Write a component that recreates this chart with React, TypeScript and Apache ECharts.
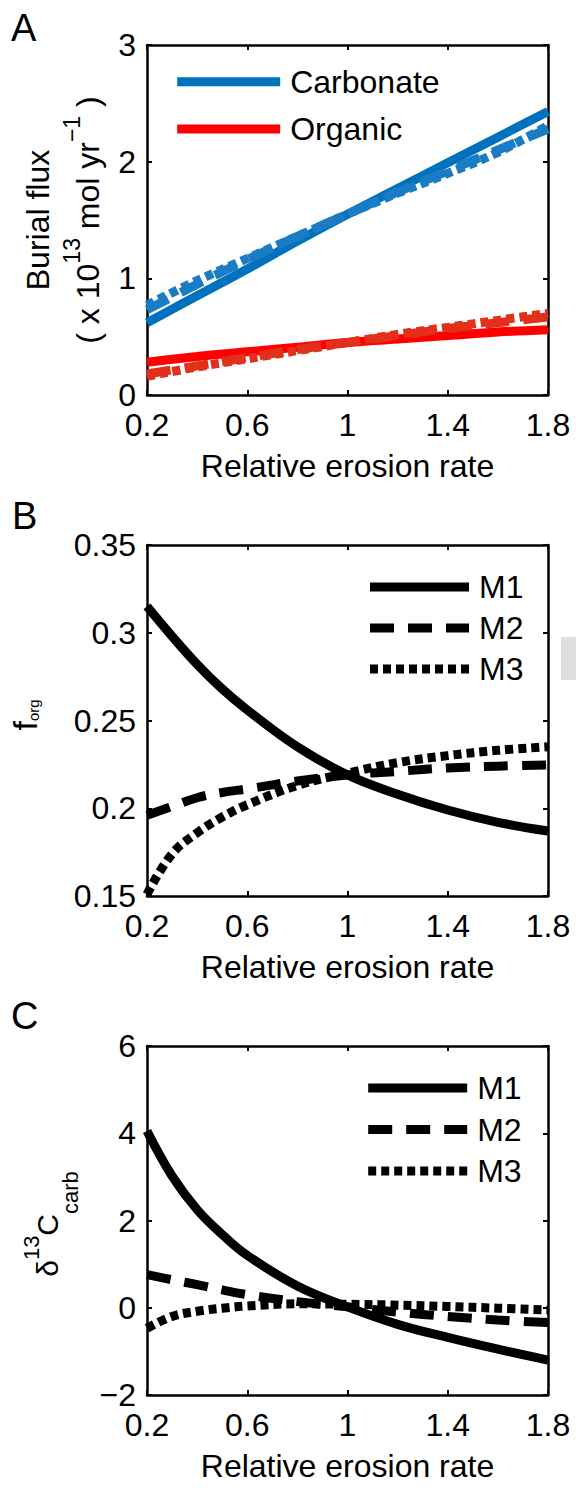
import React, { useEffect, useRef } from 'react';
import * as echarts from 'echarts';

// ---------- data ----------
const xA = [0.2, 0.4, 0.6, 0.8, 1.0, 1.2, 1.4, 1.6, 1.8];
const carbM1 = [0.62, 0.85, 1.08, 1.32, 1.55, 1.77, 1.99, 2.21, 2.43];
const carbM2 = [0.73, 0.95, 1.16, 1.36, 1.55, 1.74, 1.92, 2.1, 2.28];
const carbM3 = [0.77, 0.98, 1.17, 1.36, 1.55, 1.73, 1.9, 2.08, 2.31];
const orgM1 = [0.28, 0.33, 0.37, 0.41, 0.45, 0.48, 0.51, 0.54, 0.56];
const orgM2 = [0.18, 0.25, 0.32, 0.39, 0.45, 0.51, 0.57, 0.62, 0.67];
const orgM3 = [0.16, 0.24, 0.31, 0.38, 0.45, 0.52, 0.58, 0.64, 0.7];

const xB = [0.2, 0.3, 0.4, 0.5, 0.6, 0.8, 1.0, 1.2, 1.4, 1.6, 1.8];
const forgM1 = [0.315, 0.298, 0.282, 0.268, 0.256, 0.235, 0.219, 0.208, 0.199, 0.192, 0.187];
const forgM2 = [0.196, 0.201, 0.206, 0.209, 0.211, 0.2155, 0.219, 0.221, 0.223, 0.224, 0.2247];
const forgM3 = [0.151, 0.174, 0.186, 0.195, 0.202, 0.213, 0.22, 0.226, 0.23, 0.233, 0.235];

const xC = [0.2, 0.3, 0.4, 0.5, 0.6, 0.8, 1.0, 1.2, 1.4, 1.6, 1.8];
const d13M1 = [4.05, 3.02, 2.25, 1.68, 1.2, 0.5, 0.02, -0.38, -0.68, -0.95, -1.2];
const d13M2 = [0.76, 0.64, 0.53, 0.41, 0.3, 0.14, 0.02, -0.1, -0.2, -0.28, -0.34];
const d13M3 = [-0.47, -0.2, -0.08, -0.01, 0.04, 0.09, 0.08, 0.06, 0.03, -0.01, -0.05];

const xTicks = [0.2, 0.6, 1.0, 1.4, 1.8];
const yTicksA = [0, 1, 2, 3];
const yTicksB = [0.15, 0.2, 0.25, 0.3, 0.35];
const yTicksC = [-2, 0, 2, 4, 6];

const legendA = ['Carbonate', 'Organic'];
const legendM = ['M1', 'M2', 'M3'];

// ---------- styles ----------
const FONT = '"Liberation Sans", Arial, Helvetica, sans-serif';
const LW = 9;
const DASH = [24, 14];
const DOT = [8, 5];
const BLUE = '#0072bd';
const BLUE2 = '#1a7cc4';
const RED = '#ff0000';
const RED2 = '#e2301a';

const pairs = (xs: number[], ys: number[]) => xs.map((x, i) => [x, ys[i]]);

const grids = [
  { left: 147, top: 45, width: 401, height: 350 },
  { left: 147, top: 545, width: 401, height: 351 },
  { left: 147, top: 1046, width: 401, height: 349 },
];

const axisLine = { show: true, onZero: false, lineStyle: { color: '#000', width: 2.5 } };
const axisTick = { show: true, inside: true, length: 5, lineStyle: { color: '#000', width: 2 } };

function xAxes(i: number) {
  const base = {
    gridIndex: i,
    type: 'value',
    min: xTicks[0],
    max: xTicks[xTicks.length - 1],
    interval: xTicks[1] - xTicks[0],
    axisLine,
    axisTick,
    splitLine: { show: false },
  };
  return [
    {
      ...base,
      position: 'bottom',
      axisLabel: {
        margin: 14,
        fontSize: 32,
        color: '#000',
        fontFamily: FONT,
        formatter: (v: number) => String(Math.round(v * 10) / 10),
      },
      name: 'Relative erosion rate',
      nameLocation: 'middle',
      nameGap: 55,
      nameTextStyle: { fontSize: 32, color: '#000', fontFamily: FONT },
    },
    { ...base, position: 'top', axisLabel: { show: false } },
  ];
}

function yAxes(i: number, ticks: number[]) {
  const base = {
    gridIndex: i,
    type: 'value',
    min: ticks[0],
    max: ticks[ticks.length - 1],
    interval: Math.round((ticks[1] - ticks[0]) * 1000) / 1000,
    axisLine,
    axisTick,
    splitLine: { show: false },
  };
  return [
    {
      ...base,
      position: 'left',
      axisLabel: {
        margin: 11,
        fontSize: 32,
        color: '#000',
        fontFamily: FONT,
        formatter: (v: number) => String(Math.round(v * 100) / 100).replace('-', '\u2212'),
      },
    },
    { ...base, position: 'right', axisLabel: { show: false } },
  ];
}

function line(name: string, grid: number, xs: number[], ys: number[], color: string, type: any) {
  return {
    name,
    type: 'line',
    xAxisIndex: grid * 2,
    yAxisIndex: grid * 2,
    data: pairs(xs, ys),
    showSymbol: false,
    symbol: 'none',
    smooth: 0.4,
    color,
    lineStyle: { color, width: LW, type, cap: 'butt' },
    emphasis: { disabled: true },
  };
}

function legend(data: string[], left: number, top: number, itemWidth: number, itemGap: number) {
  return {
    data,
    orient: 'vertical',
    left,
    top,
    itemWidth,
    itemHeight: 14,
    itemGap,
    selectedMode: false,
    itemStyle: { color: 'rgba(0,0,0,0)', borderWidth: 0, opacity: 0 },
    lineStyle: { width: LW, cap: 'butt' },
    textStyle: { fontSize: 32, color: '#000', fontFamily: FONT, padding: [0, 0, 0, 5] },
  };
}

export default function App() {
  const ref = useRef<HTMLDivElement>(null);
  useEffect(() => {
    if (!ref.current) return;
    const chart = echarts.init(ref.current, null, { renderer: 'svg' });
    const option: any = {
      animation: false,
      backgroundColor: '#fff',
      grid: grids.map((g) => ({ ...g, outerBoundsMode: 'none', containLabel: false })),
      xAxis: [...xAxes(0), ...xAxes(1), ...xAxes(2)],
      yAxis: [...yAxes(0, yTicksA), ...yAxes(1, yTicksB), ...yAxes(2, yTicksC)],
      legend: [
        legend(legendA, 167.7, 60.7, 103, 15.3),
        legend(legendM, 360.5, 566, 99, 9),
        legend(legendM, 358.7, 1067, 99, 9.5),
      ],
      series: [
        line('Carbonate', 0, xA, carbM1, BLUE, 'solid'),
        line('Organic', 0, xA, orgM1, RED, 'solid'),
        line('Carbonate M2', 0, xA, carbM2, BLUE2, DASH),
        line('Carbonate M3', 0, xA, carbM3, BLUE2, DOT),
        line('Organic M2', 0, xA, orgM2, RED2, DASH),
        line('Organic M3', 0, xA, orgM3, RED2, DOT),
        line('M1', 1, xB, forgM1, '#000', 'solid'),
        line('M2', 1, xB, forgM2, '#000', DASH),
        line('M3', 1, xB, forgM3, '#000', DOT),
        line('M1', 2, xC, d13M1, '#000', 'solid'),
        line('M2', 2, xC, d13M2, '#000', DASH),
        line('M3', 2, xC, d13M3, '#000', DOT),
      ],
      graphic: [
        { type: 'text', x: 11, y: 28, style: { text: 'A', fontSize: 38, fontFamily: FONT, fill: '#000', align: 'left', verticalAlign: 'middle' } },
        { type: 'text', x: 12, y: 516, style: { text: 'B', fontSize: 38, fontFamily: FONT, fill: '#000', align: 'left', verticalAlign: 'middle' } },
        { type: 'text', x: 11, y: 1016, style: { text: 'C', fontSize: 38, fontFamily: FONT, fill: '#000', align: 'left', verticalAlign: 'middle' } },
        {
          type: 'text', x: 38, y: 220, rotation: Math.PI / 2,
          style: { text: 'Burial flux', fontSize: 32, fontFamily: FONT, fill: '#000', align: 'center', verticalAlign: 'middle' },
        },
        {
          type: 'text', x: 88, y: 220, rotation: Math.PI / 2,
          style: {
            text: '{p|( x 10}{s|13}{p| mol yr}{s|\u22121}{p| )}',
            align: 'center', verticalAlign: 'middle', fill: '#000',
            rich: {
              p: { fontSize: 32, fontFamily: FONT, fill: '#000', lineHeight: 56 },
              s: { fontSize: 23, fontFamily: FONT, fill: '#000', verticalAlign: 'top', lineHeight: 23 },
            },
          },
        },
        {
          type: 'text', x: 25, y: 715, rotation: Math.PI / 2,
          style: {
            text: '{p|f}{b|org}',
            align: 'center', verticalAlign: 'middle', fill: '#000',
            rich: {
              p: { fontSize: 34, fontFamily: FONT, fill: '#000', lineHeight: 32 },
              b: { fontSize: 15, fontFamily: FONT, fill: '#000', verticalAlign: 'bottom', lineHeight: 15 },
            },
          },
        },
        {
          type: 'text', x: 47, y: 1224, rotation: Math.PI / 2,
          style: {
            text: '{p|\u03b4}{s|13}{p|C}{b|carb}',
            align: 'center', verticalAlign: 'middle', fill: '#000',
            rich: {
              p: { fontSize: 30, fontFamily: FONT, fill: '#000', lineHeight: 53 },
              s: { fontSize: 22, fontFamily: FONT, fill: '#000', verticalAlign: 'top', lineHeight: 22 },
              b: { fontSize: 22, fontFamily: FONT, fill: '#000', verticalAlign: 'bottom', lineHeight: 22, height: 7 },
            },
          },
        },
        { type: 'rect', shape: { x: 561, y: 637, width: 15, height: 43 }, style: { fill: '#dedede' } },
      ],
    };
    chart.setOption(option);
    return () => chart.dispose();
  }, []);
  return <div ref={ref} style={{ position: 'absolute', left: 0, top: 0, width: 576, height: 1492 }} />;
}
